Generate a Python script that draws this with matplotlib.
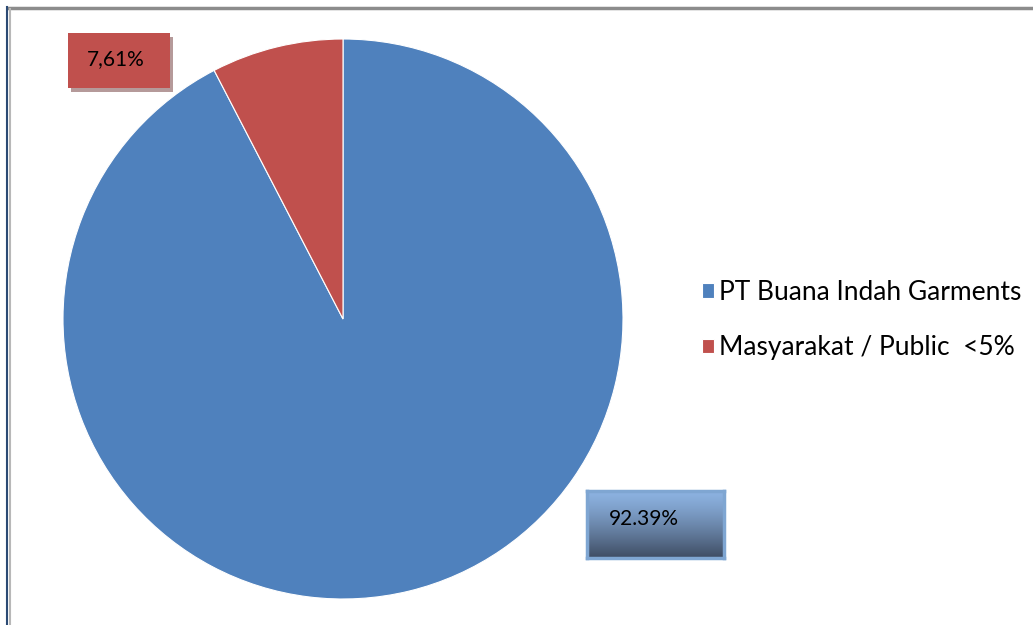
import numpy as np
import matplotlib
matplotlib.use("Agg")
import matplotlib.pyplot as plt
from matplotlib.patches import Rectangle
from matplotlib.lines import Line2D

plt.rcParams["font.family"] = ["Lato", "DejaVu Sans"]

labels = ["PT Buana Indah Garments", "Masyarakat / Public  <5%"]
values = [92.39, 7.61]
value_texts = ["92.39%", "7,61%"]
colors = ["#4f81bd", "#c0504d"]

W, H = 1033, 625
fig = plt.figure(figsize=(W / 100, H / 100), dpi=100)


def px(x0, y0, w, h):
    # pixel box (top-left origin) -> figure fraction
    return [x0 / W, 1 - (y0 + h) / H, w / W, h / H]


# frame of the chart area
fig.add_artist(Line2D([8 / W, 1], [1 - 8 / H, 1 - 8 / H], color="#8c8c8c", lw=2.5))
fig.add_artist(Line2D([7 / W, 7 / W], [0, 1 - 7 / H], color="#2c4a74", lw=1.5))
fig.add_artist(Line2D([9.5 / W, 9.5 / W], [0, 1 - 9 / H], color="#b8b8b8", lw=1.5))

cx, cy, r = 343, 319, 280
ax = fig.add_axes(px(cx - r, cy - r, 2 * r, 2 * r))
wedges, _ = ax.pie(values, colors=colors, startangle=90, counterclock=False,
                   wedgeprops=dict(edgecolor="white", linewidth=0.8))
ax.set_xlim(-1, 1)
ax.set_ylim(-1, 1)
ax.set_aspect("equal")
ax.axis("off")

# red label box with shadow
fig.patches.append(Rectangle((71 / W, 1 - 92 / H), 102 / W, 55 / H, transform=fig.transFigure,
                             facecolor="#b59a9a", edgecolor="none"))
fig.patches.append(Rectangle((68 / W, 1 - 88 / H), 102 / W, 55 / H, transform=fig.transFigure,
                             facecolor=colors[1], edgecolor="none"))
fig.text(116 / W, 1 - 59 / H, value_texts[1], fontsize=15, color="black",
         ha="center", va="center")

# gradient label box
bax = fig.add_axes(px(587, 491, 137, 67))
grad = np.linspace(0, 1, 256).reshape(-1, 1)
top = np.array([0x8d, 0xb3, 0xe2]) / 255
bot = np.array([0x3e, 0x4c, 0x62]) / 255
img = top + (bot - top) * grad[:, :, None] ** 1.3
bax.imshow(img, aspect="auto", extent=[0, 1, 0, 1])
bax.set_xticks([])
bax.set_yticks([])
for s in bax.spines.values():
    s.set_color("#7fa6d2")
    s.set_linewidth(2.5)
bax.text(0.16, 0.58, value_texts[0], fontsize=15, color="black", ha="left",
         va="center", transform=bax.transAxes)

# legend
fig.legend(wedges, labels, loc="center left", bbox_to_anchor=(702 / W, 1 - 320 / H),
           frameon=False, fontsize=19, handlelength=0.45, handleheight=0.45,
           handletextpad=0.2, labelspacing=1.15, borderpad=0, borderaxespad=0)

fig.savefig("out.png", dpi=100)
